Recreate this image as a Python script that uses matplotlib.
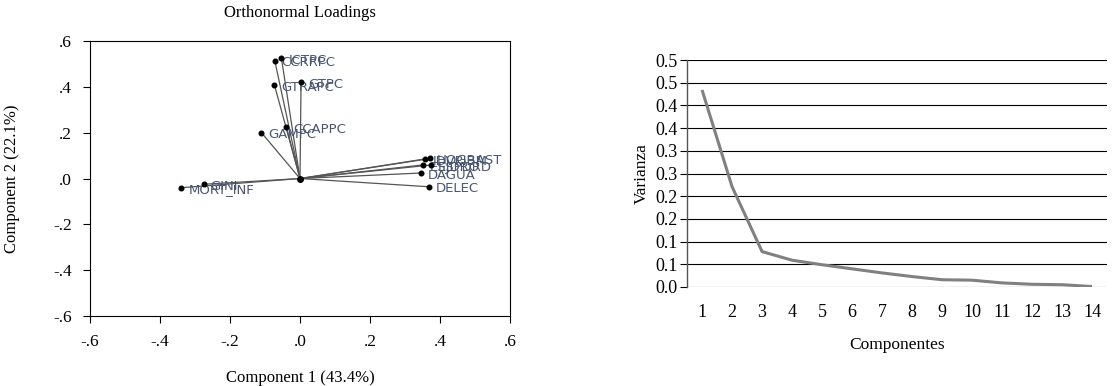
import numpy as np
import matplotlib
matplotlib.use("Agg")
import matplotlib.pyplot as plt

# ----------------------------------------------------------------- #
# Données
noms_vars = ["ICTPC", "CCRRPC", "GTRAPC", "GTPC", "CCAPPC", "GAMPC",
             "GINI", "MORT_INF",
             "IDVPIBM", "HOGBAST", "ESJDRO", "ESPDRD", "DAGUA", "DELEC"]
comp1 = [-0.053, -0.072, -0.073, 0.003, -0.039, -0.110,
         -0.275, -0.339,
         0.358, 0.372, 0.350, 0.374, 0.345, 0.369]
comp2 = [0.524, 0.514, 0.408, 0.421, 0.223, 0.200,
         -0.025, -0.040,
         0.084, 0.089, 0.059, 0.059, 0.024, -0.036]

componentes = list(range(1, 15))
varianza = [0.434, 0.221, 0.078, 0.059, 0.049, 0.040, 0.031,
            0.023, 0.016, 0.015, 0.009, 0.006, 0.005, 0.001]

ticks_pca = [-0.6, -0.4, -0.2, 0.0, 0.2, 0.4, 0.6]
labels_pca = ["-.6", "-.4", "-.2", ".0", ".2", ".4", ".6"]
ticks_var = [0.0, 0.05, 0.10, 0.15, 0.20, 0.25, 0.30, 0.35, 0.40, 0.45, 0.50]
labels_var = ["0.0", "0.1", "0.1", "0.2", "0.2", "0.3", "0.3", "0.4", "0.4", "0.5", "0.5"]

serif = "Liberation Serif"
couleur_lab = "#4a5672"

fig = plt.figure(figsize=(11.19, 3.86), dpi=100)

# ----------------------------------------------------------------- #
# I. Orthonormal loadings
ax1 = fig.add_axes([0.0804, 0.1813, 0.3754, 0.7124])
for x, y, nom in zip(comp1, comp2, noms_vars):
    ax1.plot([0, x], [0, y], color="#555555", lw=0.9, zorder=1)
    ax1.annotate(nom, (x, y), xytext=(5, -1.5), textcoords="offset points",
                 va="center", ha="left", fontsize=9.5, color=couleur_lab,
                 family="DejaVu Sans")
ax1.scatter(comp1, comp2, s=11, color="black", zorder=3)
ax1.scatter([0], [0], s=16, color="black", zorder=3)

ax1.set_xlim(-0.6, 0.6)
ax1.set_ylim(-0.6, 0.6)
ax1.set_xticks(ticks_pca)
ax1.set_xticklabels(labels_pca)
ax1.set_yticks(ticks_pca)
ax1.set_yticklabels(labels_pca)
ax1.tick_params(direction="out", length=5, width=0.8, labelsize=12.5, pad=8)
for lab in ax1.get_xticklabels() + ax1.get_yticklabels():
    lab.set_family(serif)
for sp in ax1.spines.values():
    sp.set_linewidth(0.8)
ax1.set_title("Orthonormal Loadings", family=serif, fontsize=12, pad=17)
ax1.set_xlabel("Component 1 (43.4%)", family=serif, fontsize=12, labelpad=14)
ax1.set_ylabel("Component 2 (22.1%)", family=serif, fontsize=12, labelpad=24)

# ----------------------------------------------------------------- #
# II. Varianza por componente
ax2 = fig.add_axes([0.614, 0.2565, 0.3753, 0.588])
ax2.plot(componentes, varianza, color="#808080", lw=2.2, solid_capstyle="butt", zorder=3)
ax2.set_xlim(0.5, 14.5)
ax2.set_ylim(0, 0.5)
ax2.set_yticks(ticks_var)
ax2.set_yticklabels(labels_var)
ax2.set_xticks(componentes)
ax2.grid(axis="y", color="black", lw=0.8)
ax2.set_axisbelow(True)
for s in ["top", "right", "bottom"]:
    ax2.spines[s].set_visible(False)
ax2.spines["left"].set_color("#555555")
ax2.spines["left"].set_linewidth(1.0)
ax2.spines["left"].set_zorder(4)
ax2.tick_params(axis="y", direction="out", length=5, width=0.8, labelsize=13, pad=2)
ax2.tick_params(axis="x", length=0, labelsize=13, pad=12)
for lab in ax2.get_xticklabels() + ax2.get_yticklabels():
    lab.set_family(serif)
ax2.set_xlabel("Componentes", family=serif, fontsize=12.5, labelpad=12)
ax2.set_ylabel("Varianza", family=serif, fontsize=12.5, labelpad=4)

fig.savefig("out.png", dpi=100)
